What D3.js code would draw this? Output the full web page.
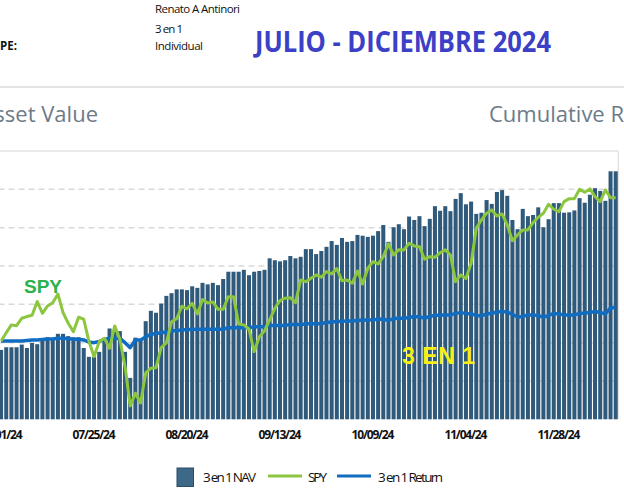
<!doctype html>
<html lang="en">

<head>
  <meta charset="utf-8">
  <title>3 en 1 - NAV vs SPY</title>
  <style>
    * { margin: 0; padding: 0; box-sizing: border-box; }
    body { background: #fff; }
    #container { width: 624px; height: 500px; overflow: hidden; }
    svg { display: block; font-family: "Open Sans", sans-serif; }
  </style>
</head>

<body>
  <div id="container"></div>
  <script src="https://cdn.jsdelivr.net/npm/d3@7"></script>
  <script>
    // weekdays 07/01/24 .. 12/13/24 (holidays kept, as in the report)
    const fmt = d3.timeFormat('%m/%d/%y');
    const dates = d3.timeDays(new Date(2024, 6, 1), new Date(2024, 11, 14))
      .filter(d => d.getDay() !== 0 && d.getDay() !== 6)
      .map(fmt);

    const tickLabels = ['07/01/24', '07/25/24', '08/20/24', '09/13/24', '10/09/24', '11/04/24', '11/28/24'];

    // 3 en 1 NAV, thousands (left axis)
    const navValues = [
      18.1, 18.8, 18.8, 18.8, 19.5, 18.6, 19.9, 19.6, 20.9, 21.4,
      20.9, 22.3, 22.3, 21.7, 21.4, 21.4, 18.6, 16.3, 16.3, 17.6,
      21.2, 23.7, 22.9, 23.0, 17.6, 10.8, 21.3, 20.7, 25.6, 28.3,
      27.8, 30.2, 32.2, 32.9, 33.9, 33.9, 33.7, 34.7, 34.3, 35.6,
      35.2, 35.6, 35.0, 36.6, 38.5, 38.5, 38.5, 39.0, 37.6, 38.5,
      38.7, 39.0, 42.0, 41.5, 41.2, 41.5, 42.6, 42.0, 42.4, 44.4,
      44.4, 43.1, 43.9, 45.0, 46.5, 45.5, 47.3, 46.3, 46.5, 48.1,
      47.9, 47.6, 47.9, 49.1, 50.7, 46.3, 50.1, 50.9, 49.6, 52.9,
      52.0, 53.0, 50.4, 52.3, 55.6, 54.4, 55.6, 54.3, 57.5, 59.0,
      56.1, 56.8, 53.6, 53.9, 57.2, 56.2, 59.3, 59.8, 58.3, 52.0,
      49.6, 54.9, 53.0, 53.3, 55.3, 50.1, 52.2, 56.4, 56.4, 53.9,
      54.0, 54.5, 57.7, 56.5, 58.6, 60.3, 59.6, 57.0, 64.7, 64.7
    ];

    // cumulative return %, right axis
    const spyReturn = [
      0.13, 0.78, 1.39, 1.33, 1.91, 2.04, 2.14, 3.21, 2.30, 2.87,
      3.13, 3.81, 2.35, 1.52, 0.86, 1.99, 1.83, 0.13, -1.10, 0.08,
      0.34, -0.44, 1.31, 0.27, -1.88, -4.95, -3.96, -4.72, -2.37, -2.00,
      -1.96, -0.38, -0.02, 1.64, 1.87, 2.85, 2.65, 3.08, 2.25, 3.37,
      3.11, 3.19, 2.61, 2.61, 3.60, 3.60, 1.46, 1.39, 1.05, -0.70,
      0.47, 0.92, 1.78, 2.69, 3.29, 3.48, 3.52, 3.13, 4.91, 4.77,
      5.04, 5.30, 5.12, 5.56, 5.38, 5.79, 4.85, 4.91, 4.65, 5.61,
      4.59, 5.82, 6.34, 6.16, 6.73, 7.73, 6.86, 7.28, 7.26, 7.78,
      7.57, 7.51, 6.53, 6.73, 6.68, 7.04, 7.26, 6.86, 4.77, 5.30,
      5.01, 6.21, 8.95, 9.60, 10.13, 10.39, 9.92, 10.07, 9.21, 7.98,
      8.43, 8.82, 8.82, 9.39, 9.81, 10.13, 10.83, 10.44, 10.25, 11.04,
      11.27, 11.27, 12.01, 11.77, 12.03, 11.43, 11.04, 11.95, 11.35, 11.35
    ];

    const fundReturn = [
      0.13, 0.13, 0.13, 0.13, 0.13, 0.17, 0.21, 0.21, 0.25, 0.29,
      0.29, 0.34, 0.34, 0.31, 0.27, 0.27, 0.21, 0.05, 0.00, 0.09,
      0.25, 0.34, 0.34, 0.33, 0.00, -0.39, 0.21, 0.21, 0.45, 0.66,
      0.72, 0.78, 0.84, 0.92, 0.95, 0.99, 1.02, 1.03, 1.05, 1.05,
      1.05, 1.05, 1.05, 1.05, 1.17, 1.17, 1.17, 1.17, 1.17, 1.25,
      1.25, 1.25, 1.35, 1.35, 1.35, 1.35, 1.42, 1.42, 1.42, 1.46,
      1.50, 1.46, 1.50, 1.58, 1.62, 1.66, 1.68, 1.70, 1.70, 1.74,
      1.78, 1.78, 1.80, 1.83, 1.85, 1.72, 1.89, 1.91, 1.91, 1.97,
      2.04, 2.01, 1.93, 2.05, 2.14, 2.14, 2.17, 2.17, 2.29, 2.35,
      2.29, 2.25, 2.13, 2.09, 2.25, 2.30, 2.40, 2.43, 2.40, 2.21,
      2.01, 2.05, 2.17, 2.17, 2.13, 1.97, 2.13, 2.29, 2.25, 2.17,
      2.17, 2.17, 2.29, 2.32, 2.36, 2.43, 2.36, 2.25, 2.72, 2.77
    ];

    const data = dates.map((d, i) => ({
      date: d, nav: navValues[i], spy: spyReturn[i], ret: fundReturn[i]
    }));

    const W = 624, H = 500;
    const plot = { left: -1.5, right: 618.3, top: 151, bottom: 419.3 };
    const narrow = '"Liberation Sans Narrow", "Open Sans", sans-serif';

    const svg = d3.select('#container').append('svg')
      .attr('width', W)
      .attr('height', H);

    // header block
    const head = svg.append('g')
      .attr('fill', '#111')
      .style('font-family', narrow)
      .style('font-size', '11.5px');
    head.append('text').attr('x', 155).attr('y', 13).attr('textLength', 85).text('Renato A Antinori');
    head.append('text').attr('x', 155).attr('y', 33).attr('textLength', 28).text('3 en 1');
    head.append('text').attr('x', 155).attr('y', 50).attr('textLength', 48).text('Individual');
    head.append('text').attr('x', 17).attr('y', 50).attr('text-anchor', 'end')
      .style('font-weight', 'bold').text('ACCOUNT TYPE:');

    svg.append('text')
      .attr('x', 255).attr('y', 51.5)
      .attr('textLength', 296).attr('lengthAdjust', 'spacingAndGlyphs')
      .attr('fill', '#3b40c6')
      .style('font-size', '28px').style('font-weight', 'bold')
      .text('JULIO - DICIEMBRE 2024');

    svg.append('line')
      .attr('x1', 0).attr('x2', W).attr('y1', 87).attr('y2', 87)
      .attr('stroke', '#e4e4e4').attr('stroke-width', 2);

    svg.append('text')
      .attr('x', 98).attr('y', 122).attr('text-anchor', 'end')
      .attr('fill', '#6d7b88').style('font-size', '22px')
      .text('Net Asset Value');
    svg.append('text')
      .attr('x', 489).attr('y', 122)
      .attr('fill', '#6d7b88').style('font-size', '22px')
      .text('Cumulative Return');

    // scales
    const x = d3.scaleBand()
      .domain(dates)
      .range([plot.left, plot.right])
      .paddingInner(0.22)
      .paddingOuter(0.11);

    const yNav = d3.scaleLinear().domain([0, 70]).range([plot.bottom, plot.top]);
    const yRet = d3.scaleLinear().domain([-6, 15]).range([plot.bottom, plot.top]);

    // frame
    svg.append('line')
      .attr('x1', 0).attr('x2', plot.right).attr('y1', plot.top).attr('y2', plot.top)
      .attr('stroke', '#e2e2e2').attr('stroke-width', 1.5);
    svg.append('line')
      .attr('x1', plot.right).attr('x2', plot.right).attr('y1', plot.top).attr('y2', plot.bottom)
      .attr('stroke', '#e2e2e2').attr('stroke-width', 1.5);

    // dashed grid
    svg.append('g')
      .selectAll('line')
      .data(yNav.ticks(7).filter(t => t > 0 && t < 70))
      .join('line')
      .attr('x1', plot.left).attr('x2', plot.right)
      .attr('y1', d => yNav(d)).attr('y2', d => yNav(d))
      .attr('stroke', '#d9d9d9')
      .attr('stroke-width', 1.5)
      .attr('stroke-dasharray', '6,4');

    // bars
    svg.append('g')
      .selectAll('rect')
      .data(data)
      .join('rect')
      .attr('x', d => x(d.date))
      .attr('y', d => yNav(d.nav))
      .attr('width', x.bandwidth())
      .attr('height', d => yNav(0) - yNav(d.nav))
      .attr('fill', '#2f5a7b');

    // lines
    const cx = d => x(d.date) + x.bandwidth() / 2;
    const retLine = d3.line().x(cx).y(d => yRet(d.ret));
    const spyLine = d3.line().x(cx).y(d => yRet(d.spy));

    svg.append('path')
      .datum(data)
      .attr('d', retLine)
      .attr('fill', 'none')
      .attr('stroke', '#106cc1')
      .attr('stroke-width', 3.5)
      .attr('stroke-linejoin', 'round');

    svg.append('path')
      .datum(data)
      .attr('d', spyLine)
      .attr('fill', 'none')
      .attr('stroke', '#8cc63f')
      .attr('stroke-width', 3)
      .attr('stroke-linejoin', 'round');

    // x axis
    const xAxis = svg.append('g')
      .attr('transform', `translate(0,${plot.bottom})`)
      .call(d3.axisBottom(x).tickValues(tickLabels).tickSize(0).tickPadding(11));
    xAxis.select('.domain').remove();
    xAxis.selectAll('text')
      .attr('fill', '#111')
      .attr('textLength', 43)
      .style('font-family', narrow)
      .style('font-size', '12px')
      .style('font-weight', 'bold');

    // annotations
    svg.append('text')
      .attr('x', 24).attr('y', 293)
      .attr('fill', '#2bb24c')
      .style('font-family', '"Liberation Sans", Arial, sans-serif')
      .style('font-size', '19px').style('font-weight', 'bold')
      .text('SPY');
    svg.append('text')
      .attr('x', 402).attr('y', 363.5)
      .attr('textLength', 73)
      .attr('fill', '#f7ee12')
      .style('font-family', '"Liberation Sans", Arial, sans-serif')
      .style('font-size', '23px').style('font-weight', 'bold')
      .text('3 EN 1');

    // legend
    const legend = svg.append('g')
      .attr('fill', '#111')
      .style('font-family', narrow)
      .style('font-size', '13.5px');
    legend.append('rect')
      .attr('x', 177).attr('y', 468).attr('width', 16.5).attr('height', 18.5)
      .attr('fill', '#3e6888').attr('stroke', '#2c4d69');
    legend.append('text').attr('x', 203).attr('y', 481.5).attr('textLength', 53).text('3 en 1 NAV');
    legend.append('line')
      .attr('x1', 268).attr('x2', 302).attr('y1', 476).attr('y2', 476)
      .attr('stroke', '#8cc63f').attr('stroke-width', 3);
    legend.append('text').attr('x', 308).attr('y', 481.5).attr('textLength', 19).text('SPY');
    legend.append('line')
      .attr('x1', 337).attr('x2', 371).attr('y1', 476).attr('y2', 476)
      .attr('stroke', '#106cc1').attr('stroke-width', 3);
    legend.append('text').attr('x', 378).attr('y', 481.5).attr('textLength', 65).text('3 en 1 Return');
  </script>
</body>

</html>
